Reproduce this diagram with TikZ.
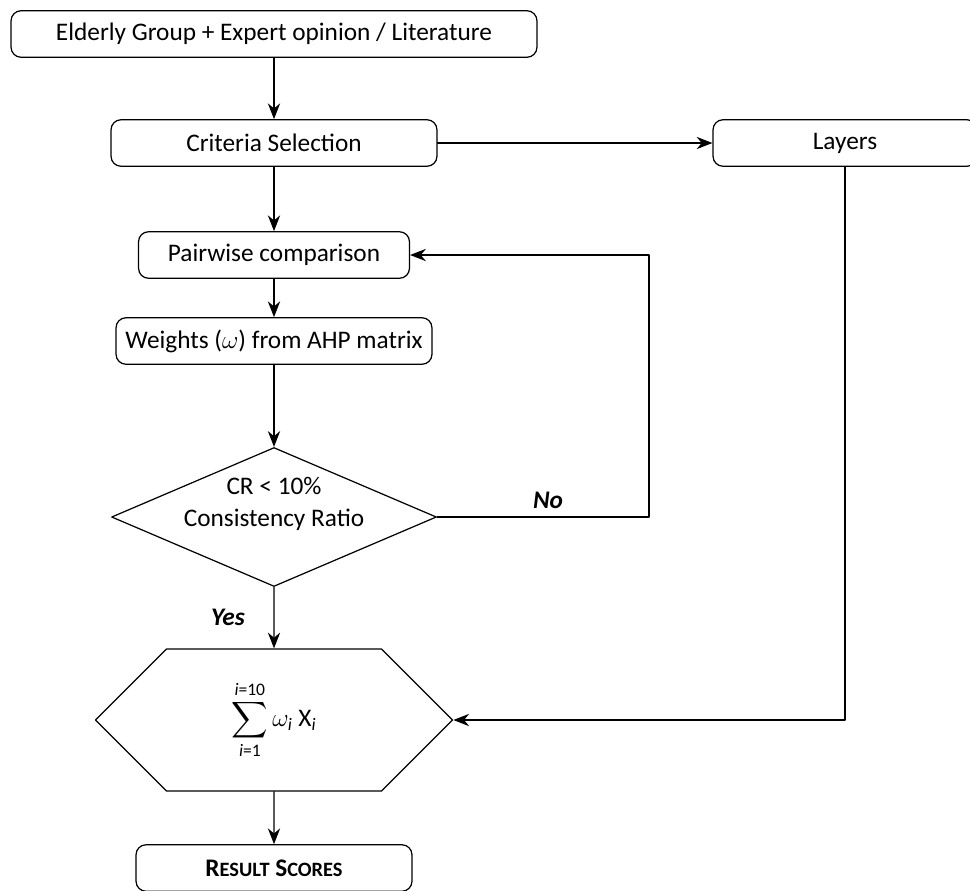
\documentclass[tikz,border=0pt]{standalone}
\usepackage{amsmath}
\usepackage{fontspec}
\setmainfont{Carlito}
\usetikzlibrary{arrows.meta, shapes.geometric, shapes.symbols}

\newcommand{\smallcap}[1]{{\fontsize{11.6}{13}\selectfont #1}}
\newcommand{\idx}[1]{\text{\itshape i\upshape #1}}

\begin{document}
\begin{tikzpicture}[x=0.02cm, y=-0.02cm, >={Stealth[length=9pt, width=7pt]},
	line cap=round, line join=round, line width=0.7pt,
	font=\fontsize{14.4}{17}\selectfont,
	stepbox/.style={draw, rounded corners=0.2cm, minimum height=0.93cm, inner sep=0pt},
	decision/.style={draw, diamond, inner sep=0pt,
		minimum width=6.5cm, minimum height=2.78cm},
	sumbox/.style={draw, signal, signal to=east and west, signal pointer angle=90,
		inner sep=0pt, minimum width=7.14cm, minimum height=2.84cm},
	answer/.style={font=\fontsize{14.4}{17}\selectfont\bfseries\itshape}]
	
	\useasboundingbox (0,0) rectangle (970,890);
	
	%========================
	% main column
	%========================
	\node[stepbox, minimum width=10.52cm] (source) at (274,34)
		{Elderly Group + Expert opinion / Literature};
	\node[stepbox, minimum width=6.52cm] (criteria) at (274,143) {Criteria Selection};
	\node[stepbox, minimum width=5.42cm] (pairwise) at (274,255) {Pairwise comparison};
	\node[stepbox, minimum width=6.32cm] (weights) at (274,341) {Weights ($\omega$) from AHP matrix};
	\node[decision, label={[align=center, yshift=0.26cm, font=\fontsize{14.4}{18}\selectfont]center:CR < 10\%\\Consistency Ratio}]
		(ratio) at (274,517) {};
	\node[sumbox] (total) at (274,720)
		{$\displaystyle\sum_{\idx{=1}}^{\idx{=10}}\omega_{\idx{}}$\ X$_{\idx{}}$};
	\node[stepbox, minimum width=5.52cm] (result) at (274,868)
		{\textbf{R\smallcap{ESULT} S\smallcap{CORES}}};
	
	%========================
	% right branch
	%========================
	\node[stepbox, minimum width=5.28cm] (layers) at (845,143) {Layers};
	\coordinate (back) at (649,255);
	
	% connectors
	\draw[->] (source) -- (criteria);
	\draw[->] (criteria) -- (pairwise);
	\draw[->] (criteria) -- (layers);
	\draw[->] (pairwise) -- (weights);
	\draw[->] (weights) -- (ratio);
	\draw[->] (ratio.east) -| (back) -- (pairwise.east);
	\draw[->] (ratio) -- (total);
	\draw[->] (layers) |- (total.east);
	\draw[->] (total) -- (result);
	
	% answers
	\node[answer] (no) at (548,500) {No};
	\node[answer] (yes) at (228,617) {Yes};
	
\end{tikzpicture}
\end{document}
